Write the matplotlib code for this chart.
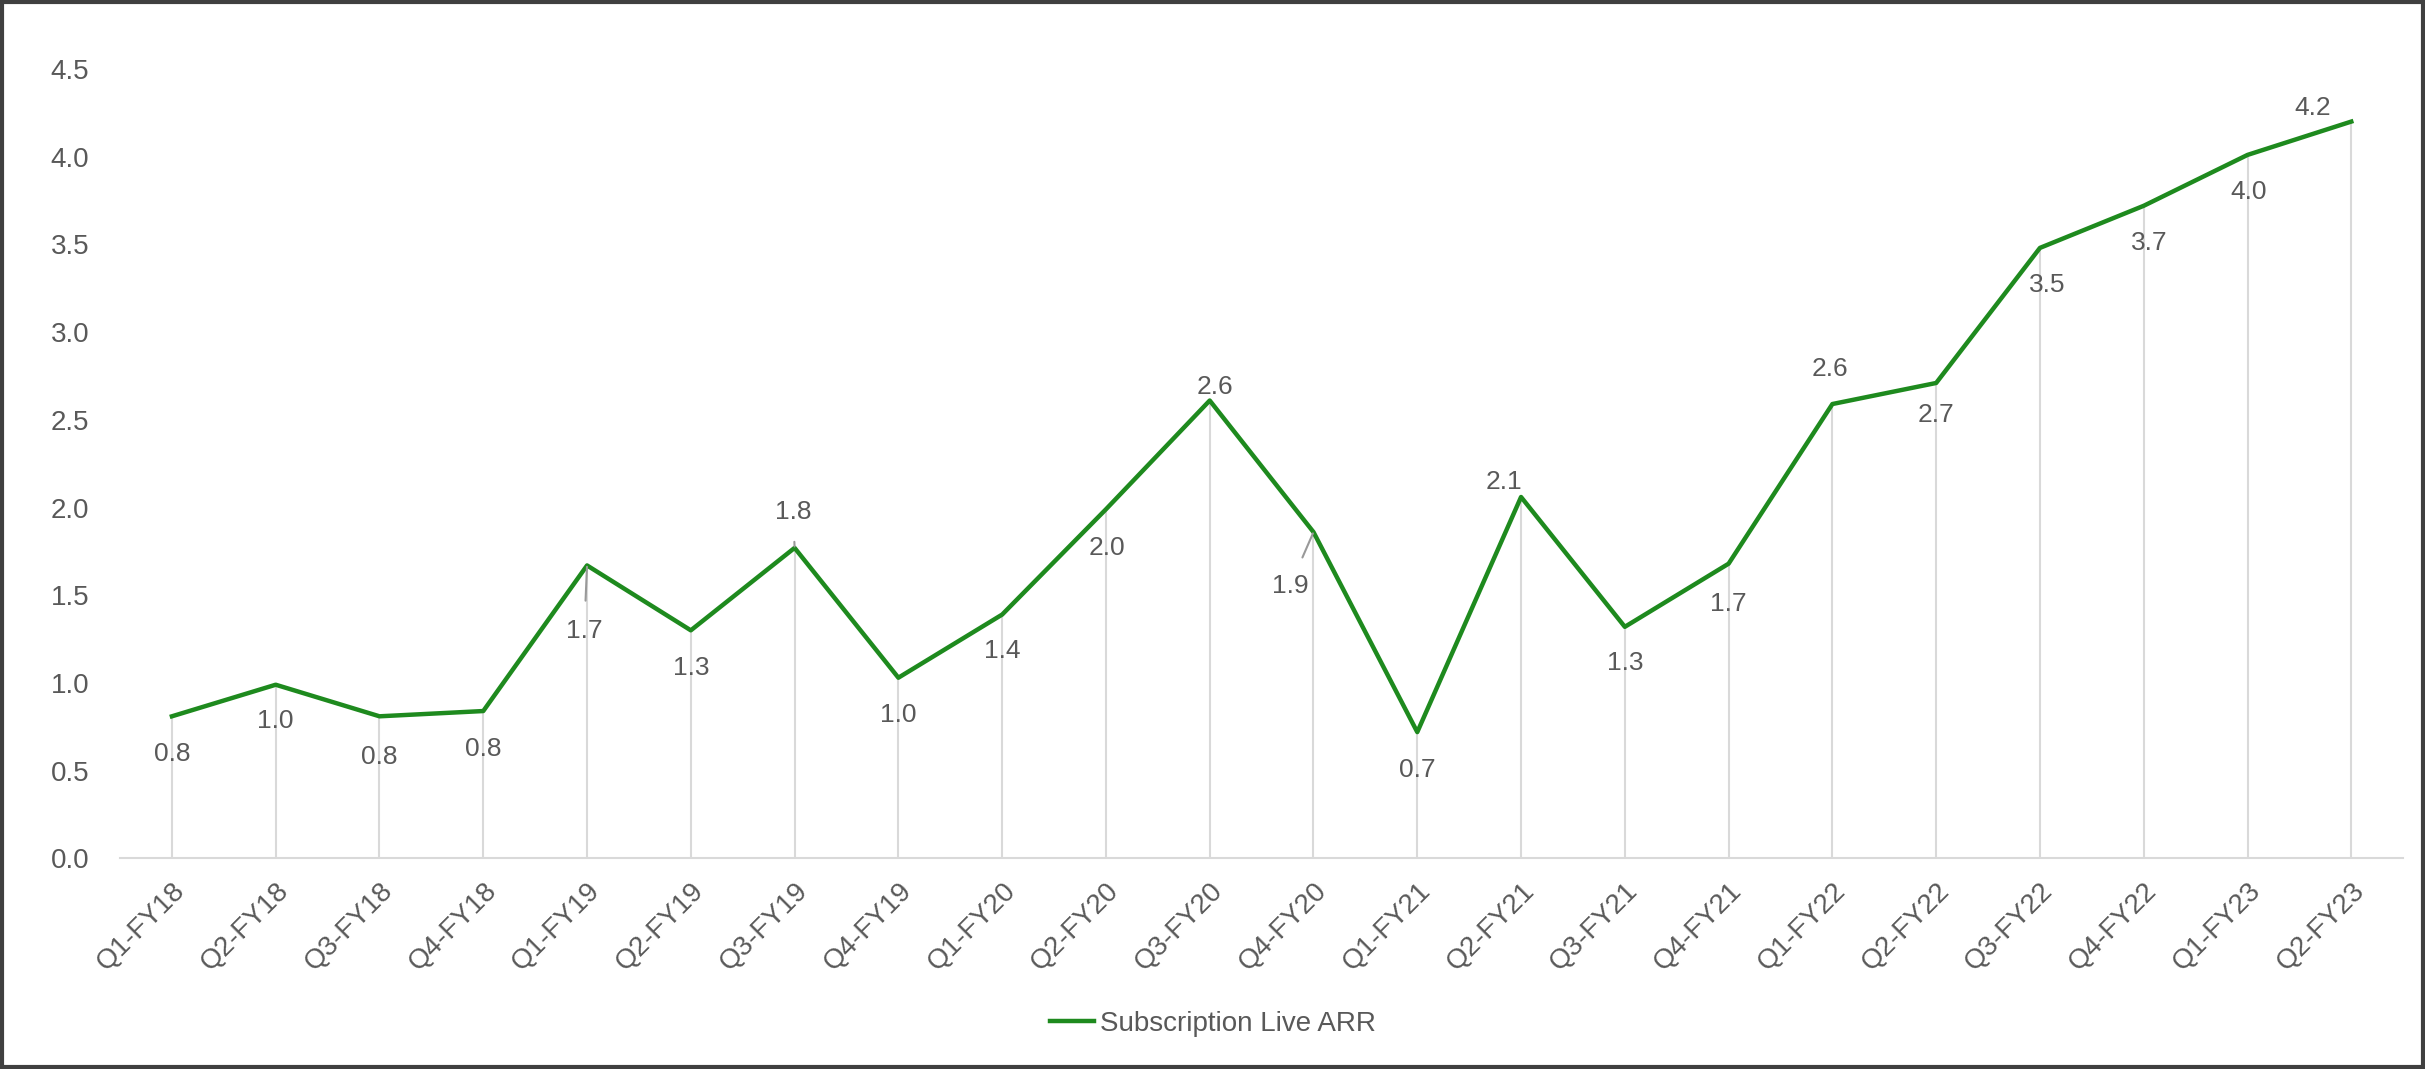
import matplotlib.pyplot as plt
from matplotlib.patches import Rectangle

plt.rcParams['font.family'] = ['Liberation Sans', 'DejaVu Sans']

quarters = ["Q1-FY18", "Q2-FY18", "Q3-FY18", "Q4-FY18",
            "Q1-FY19", "Q2-FY19", "Q3-FY19", "Q4-FY19",
            "Q1-FY20", "Q2-FY20", "Q3-FY20", "Q4-FY20",
            "Q1-FY21", "Q2-FY21", "Q3-FY21", "Q4-FY21",
            "Q1-FY22", "Q2-FY22", "Q3-FY22", "Q4-FY22",
            "Q1-FY23", "Q2-FY23"]
arr = [0.81, 0.99, 0.81, 0.84,
       1.67, 1.30, 1.77, 1.03,
       1.39, 1.99, 2.61, 1.86,
       0.72, 2.06, 1.32, 1.68,
       2.59, 2.71, 3.48, 3.72,
       4.01, 4.20]

# label placement (offset points, dx, dy) and which ones get a leader line
label_off = [(0, -27), (0, -26), (0, -29), (0, -27),
             (-2, -47), (0, -27), (-1, 26), (0, -27),
             (0, -26), (1, -28), (4, 10), (-17, -39),
             (0, -27), (-12, 11), (0, -26), (0, -29),
             (-2, 25), (0, -23), (5, -27), (4, -27),
             (1, -27), (-28, 10)]
leaders = {4, 6, 11}

grey = "#595959"
green = "#1e8a1e"

fig = plt.figure(figsize=(24.25, 10.69), dpi=100)
ax = fig.add_axes([0.0495, 0.197, 0.9415, 0.7385])

x = list(range(len(quarters)))
ax.vlines(x, 0, arr, color="#d9d9d9", lw=1.5, zorder=1)
ax.plot(x, arr, color=green, lw=3.2, label="Subscription Live ARR", zorder=3)

for i, v in enumerate(arr):
    dx, dy = label_off[i]
    props = None
    if i in leaders:
        props = dict(arrowstyle="-", color="#999999", lw=1.5, shrinkA=11, shrinkB=1)
    ax.annotate(f"{v:.1f}", (i, v), xytext=(dx, dy), textcoords="offset points",
                ha="center", va="center", fontsize=19, color=grey,
                arrowprops=props, zorder=4)

ax.set_xlim(-0.5, len(quarters) - 0.5)
ax.set_ylim(0, 4.5)
ax.set_yticks([0, 0.5, 1.0, 1.5, 2.0, 2.5, 3.0, 3.5, 4.0, 4.5])
ax.set_yticklabels([f"{t:.1f}" for t in ax.get_yticks()])
ax.set_xticks(x)
ax.set_xticklabels(quarters, rotation=45, ha="right", rotation_mode="anchor")

for s in ["top", "right", "left"]:
    ax.spines[s].set_visible(False)
ax.spines["bottom"].set_color("#d9d9d9")
ax.spines["bottom"].set_linewidth(1.5)
ax.tick_params(axis="both", length=0, colors=grey, labelsize=20)
ax.tick_params(axis="y", pad=22)
ax.tick_params(axis="x", pad=14)

fig.legend(loc="center", bbox_to_anchor=(0.5, 0.042), frameon=False,
           fontsize=20, labelcolor=grey, handlelength=1.6, handletextpad=0.2)

fig.patches.append(Rectangle((0.001, 0.002), 0.998, 0.996, transform=fig.transFigure,
                             fill=False, edgecolor="#404040", lw=3))

fig.savefig("out.png", dpi=100, facecolor="white")
